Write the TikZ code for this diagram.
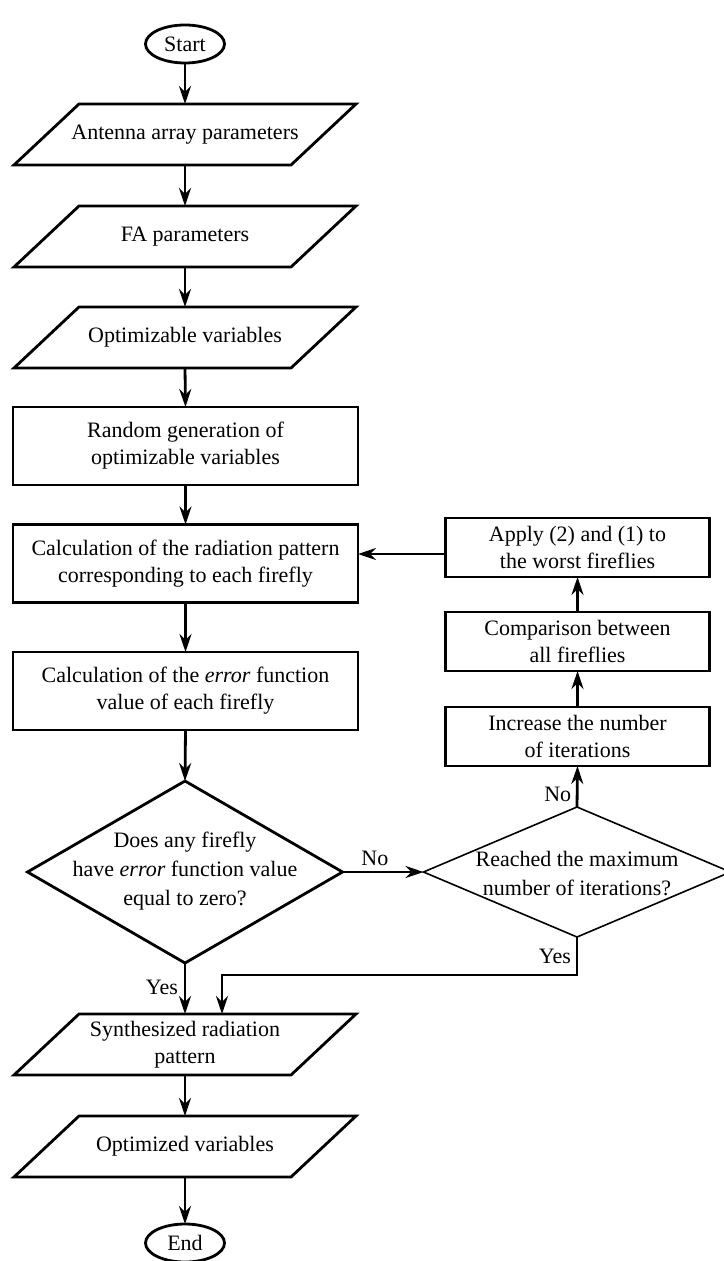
\documentclass[tikz,border=0pt]{standalone}
\usepackage{fontspec}
\setmainfont{Liberation Serif}
\usetikzlibrary{shapes.geometric,arrows.meta,calc}
\newcommand\drawpara[1]{\draw[ln,line join=miter] ($(#1.south west)+(-32.5,0)$) -- ($(#1.south east)+(-32.5,0)$) -- ($(#1.north east)+(32.5,0)$) -- ($(#1.north west)+(32.5,0)$) -- cycle;}
\begin{document}
\begin{tikzpicture}[x=0.5pt,y=-0.5pt,
 font=\fontsize{11pt}{13.5pt}\selectfont,
 every node/.style={inner sep=0pt, outer sep=0pt},
 ln/.style={line width=1.4pt},
 arr/.style={ln,-{Stealth[length=9pt,width=6pt,inset=3pt]}},
 procbox/.style={draw,ln,rectangle,align=center,minimum width=172.5pt,minimum height=39pt},
 sidebox/.style={draw,ln,rectangle,align=center,minimum width=132pt,minimum height=29.5pt},
 iobox/.style={rectangle,align=center,minimum width=138.5pt,minimum height=30.5pt},
 term/.style={draw,ln,ellipse,minimum width=39.5pt,minimum height=19pt},
 dtext/.style={align=center,font=\fontsize{11pt}{14.5pt}\selectfont},
 lbl/.style={font=\fontsize{11pt}{13pt}\selectfont}
]
\useasboundingbox (0,0) rectangle (723,1261);

\node[term] (start) at (185,44) {Start};
\node[iobox] (p1) at (185,134.5) {Antenna array parameters};
\node[iobox] (p2) at (185,236.5) {FA parameters};
\node[iobox] (p3) at (185,337.5) {Optimizable variables};
\node[procbox] (r1) at (185.5,446) {Random generation of\\optimizable variables};
\node[procbox] (r2) at (185.5,563.5) {Calculation of the radiation pattern\\corresponding to each firefly};
\node[procbox] (r3) at (185.5,691) {Calculation of the \emph{error} function\\value of each firefly};
\node[draw,ln,diamond,minimum width=157.5pt,minimum height=91pt] (d1) at (185,872) {};
\node[dtext] (d1t) at (185,871) {Does any firefly\\have \emph{error} function value\\equal to zero?};
\node[draw,line width=0.8pt,diamond,minimum width=153.5pt,minimum height=65pt] (d2) at (577,872) {};
\node[dtext] (d2t) at (577,874) {Reached the maximum\\number of iterations?};
\node[sidebox] (sc) at (577.5,736.5) {Increase the number\\of iterations};
\node[sidebox] (sb) at (577.5,641.5) {Comparison between\\all fireflies};
\node[sidebox] (sa) at (577.5,547.5) {Apply (2) and (1) to\\the worst fireflies};
\node[iobox] (p4) at (185,1044.5) {Synthesized radiation\\pattern};
\node[iobox] (p5) at (185,1146.5) {Optimized variables};
\node[term] (end) at (185,1243) {End};

\drawpara{p1}
\drawpara{p2}
\drawpara{p3}
\drawpara{p4}
\drawpara{p5}

\coordinate (ya) at (0,554);
\coordinate (yb) at (0,975);
\coordinate (xb) at (222,0);

\draw[arr] (start.south) -- (p1.north);
\draw[arr] (p1.south) -- (p2.north);
\draw[arr] (p2.south) -- (p3.north);
\draw[arr] (p3.south) -- (r1.north);
\draw[arr] (r1.south) -- (r2.north);
\draw[arr] (r2.south) -- (r3.north);
\draw[arr] (r3.south) -- (d1.north);
\draw[arr] (d1.east) -- node[lbl,pos=0.4,above=3pt] {No} (d2.west);
\draw[arr] (d2.north) -- node[lbl,pos=0.3,left=3pt] {No} (sc.south);
\draw[arr] (sc.north) -- (sb.south);
\draw[arr] (sb.north) -- (sa.south);
\draw[arr] (sa.west |- ya) -- (r2.east |- ya);
\draw[arr] (d2.south) -- node[lbl,pos=0.5,left=3pt] {Yes} (d2.south |- yb) -| (p4.north -| xb);
\draw[arr] (d1.south) -- node[lbl,pos=0.47,left=3.5pt] {Yes} (p4.north);
\draw[arr] (p4.south) -- (p5.north);
\draw[arr] (p5.south) -- (end.north);
\end{tikzpicture}
\end{document}
